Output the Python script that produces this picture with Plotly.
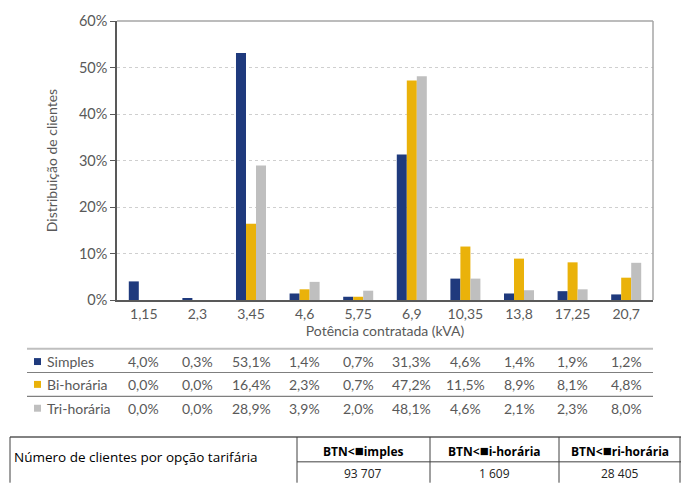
import plotly.graph_objects as go

# Potência contratada (kVA) and share of clients per tariff option (%)
categories = ["1,15", "2,3", "3,45", "4,6", "5,75", "6,9", "10,35", "13,8", "17,25", "20,7"]
simples = [4.0, 0.3, 53.1, 1.4, 0.7, 31.3, 4.6, 1.4, 1.9, 1.2]
bi_horaria = [0.0, 0.0, 16.4, 2.3, 0.7, 47.2, 11.5, 8.9, 8.1, 4.8]
tri_horaria = [0.0, 0.0, 28.9, 3.9, 2.0, 48.1, 4.6, 2.1, 2.3, 8.0]
series_names = ["Simples", "Bi-horária", "Tri-horária"]
series_values = [simples, bi_horaria, tri_horaria]
colors = ["#1F3A7D", "#EAB20A", "#BFBFBF"]

# Client counts per tariff option
BOX = "<span style='font-size:15px'>\u25A0</span>"
count_headers = [f"BTN<{BOX}imples", f"BTN<{BOX}i-horária", f"BTN<{BOX}ri-horária"]
count_values = ["93 707", "1 609", "28 405"]
count_title = "Número de clientes por opção tarifária"

W, H = 681, 483
L, R, T, B = 117, 653, 19, 300  # plot area in pixels


def px(x):
    return (x - L) / (R - L)


def py(y):
    return (B - y) / (B - T)


FONT = "Lato"
GREY = "#595959"

fig = go.Figure()
for name, vals, col in zip(series_names, series_values, colors):
    fig.add_trace(go.Bar(x=categories, y=vals, name=name, marker_color=col,
                         marker_line_width=0, showlegend=False))

shapes = []
annotations = []

# frame: light top/right border
shapes.append(dict(type="line", xref="paper", yref="paper", x0=0, x1=1, y0=1, y1=1,
                   line=dict(color="#A6A6A6", width=1.5)))
shapes.append(dict(type="line", xref="paper", yref="paper", x0=1, x1=1, y0=0, y1=1,
                   line=dict(color="#A6A6A6", width=1.5)))

# data table under the chart
row_y = [362, 385, 409]
line_y = [(349, "#BFBFBF", 2), (373, "#7F7F7F", 1.2), (397, "#7F7F7F", 1.2)]
for y, c, w in line_y:
    shapes.append(dict(type="line", xref="paper", yref="paper", x0=px(27), x1=px(653),
                       y0=py(y), y1=py(y), line=dict(color=c, width=w)))
for ry, name, vals, col in zip(row_y, series_names, series_values, colors):
    shapes.append(dict(type="rect", xref="paper", yref="paper",
                       x0=px(34), x1=px(41), y0=py(ry + 3.5), y1=py(ry - 3.5),
                       fillcolor=col, line=dict(width=0)))
    annotations.append(dict(x=px(45), y=py(ry), xref="paper", yref="paper", text=name,
                            showarrow=False, xanchor="left", yanchor="middle",
                            font=dict(family=FONT, size=14, color=GREY)))
    for cat, v in zip(categories, vals):
        annotations.append(dict(x=cat, y=py(ry), xref="x", yref="paper",
                                text=f"{v:.1f}%".replace(".", ","), showarrow=False,
                                xanchor="center", yanchor="middle",
                                font=dict(family=FONT, size=14, color=GREY)))

# client count table
tl = dict(color="#404040", width=1)
shapes.append(dict(type="line", xref="paper", yref="paper", x0=px(10), x1=px(681),
                   y0=py(438), y1=py(438), line=dict(color="#595959", width=1.5)))
for xv in [10, 297, 430, 559, 680]:
    shapes.append(dict(type="line", xref="paper", yref="paper", x0=px(xv), x1=px(xv),
                       y0=py(438), y1=py(484), line=tl))
shapes.append(dict(type="line", xref="paper", yref="paper", x0=px(297), x1=px(681),
                   y0=py(463), y1=py(463), line=tl))
annotations.append(dict(x=px(12), y=py(458), xref="paper", yref="paper", text=count_title,
                        showarrow=False, xanchor="left", yanchor="middle",
                        font=dict(family="Open Sans", size=13.5, color="#000000")))
col_centers = [363, 494, 620]
for cx, h, v in zip(col_centers, count_headers, count_values):
    annotations.append(dict(x=px(cx), y=py(451), xref="paper", yref="paper",
                            text=f"<b>{h}</b>", showarrow=False, xanchor="center",
                            yanchor="middle",
                            font=dict(family="Open Sans", size=12, color="#000000")))
    annotations.append(dict(x=px(cx), y=py(475), xref="paper", yref="paper", text=v,
                            showarrow=False, xanchor="center", yanchor="middle",
                            font=dict(family="Open Sans", size=12, color="#222222")))

fig.update_layout(
    width=W, height=H,
    margin=dict(l=L, r=W - R, t=T, b=H - B, pad=0),
    paper_bgcolor="white", plot_bgcolor="white",
    barmode="group", bargap=0.44, bargroupgap=0,
    font=dict(family=FONT, color=GREY),
    shapes=shapes, annotations=annotations,
    xaxis=dict(
        showline=True, linecolor="#595959", linewidth=1.5, ticks="",
        tickfont=dict(family=FONT, size=14, color=GREY),
        title=dict(text="Potência contratada (kVA)", standoff=2,
                   font=dict(family=FONT, size=14, color=GREY)),
        showgrid=False,
    ),
    yaxis=dict(
        range=[0, 60], dtick=10, ticksuffix="%",
        showline=True, linecolor="#595959", linewidth=1.5,
        ticks="outside", ticklen=5, tickcolor="#595959",
        tickfont=dict(family=FONT, size=14.5, color=GREY),
        showgrid=True, gridcolor="#CFCFCF", griddash="dot", gridwidth=1,
        zeroline=False,
        title=dict(text="Distribuição de clientes", standoff=18,
                   font=dict(family=FONT, size=14, color=GREY)),
    ),
)

fig.write_html("out.html")
